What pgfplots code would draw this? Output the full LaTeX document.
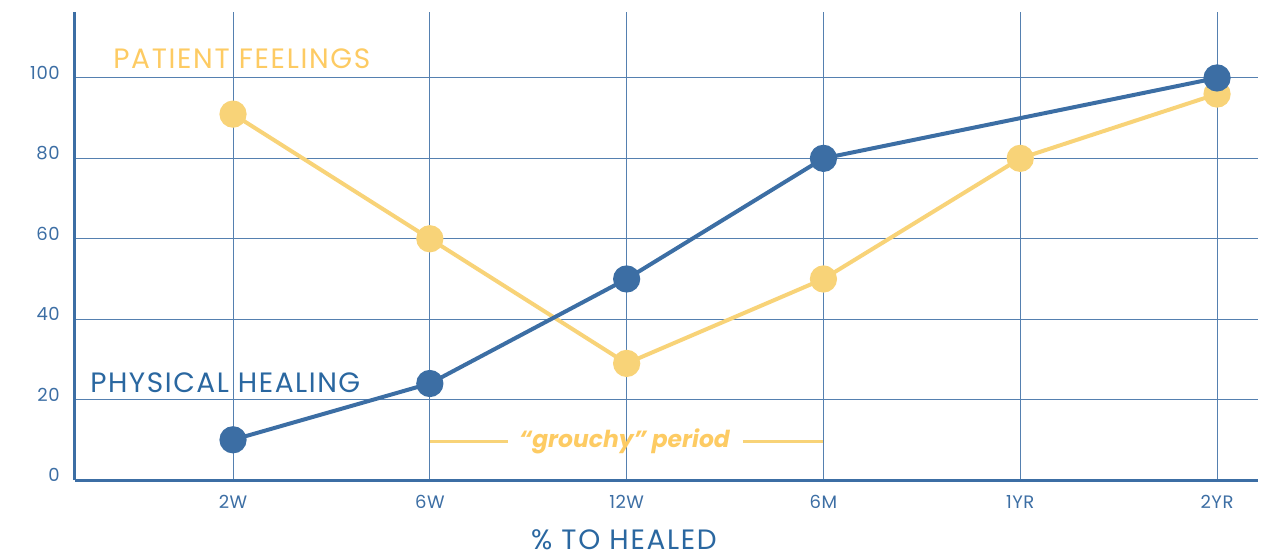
\documentclass[border=0pt]{standalone}
\usepackage{fontspec}
\setmainfont{Poppins}
\usepackage{pgfplots}
\pgfplotsset{compat=1.18}
\definecolor{cblue}{HTML}{3C6EA4}
\definecolor{tblue}{HTML}{2A67A0}
\definecolor{cyel}{HTML}{F8D378}
\definecolor{tyel}{HTML}{FDCB63}
\definecolor{gridc}{HTML}{5580B0}
\begin{document}
\begin{tikzpicture}
\useasboundingbox (0,0) rectangle (633pt,279.5pt);
\begin{axis}[
  at={(37.5pt,39.5pt)}, anchor=south west,
  scale only axis, width=591.5pt, height=234pt,
  xmin=-0.803, xmax=5.208, ymin=0, ymax=116.4,
  axis x line=bottom, axis y line=left,
  axis line style={cblue, line width=1.5pt, -},
  xtick={0,...,5}, xticklabels={2W,6W,12W,6M,1YR,2YR},
  ytick={0,20,...,100},
  grid=major, grid style={gridc, line width=0.5pt},
  tick style={draw=none},
  ticklabel style={font=\fontsize{9}{9}\selectfont\addfontfeature{LetterSpace=3}, text=cblue},
  yticklabel style={yshift=2.5pt, xshift=-2pt},
  xticklabel style={yshift=-2pt},
  /pgf/number format/assume math mode=true,
  xlabel={\% TO HEALED},
  xlabel style={at={(rel axis cs:0.464,0)}, anchor=center, yshift=-30pt, inner sep=0pt, font=\fontsize{14}{14}\selectfont\addfontfeature{LetterSpace=6}, text=tblue},
  clip=false,
]
\addplot[cyel, line width=2pt, mark=*, mark size=5.8pt, mark options={fill=cyel, draw=none}] coordinates {(0,91)(1,60)(2,29)(3,50)(4,80)(5,96)};
\addplot[cblue, line width=2pt, mark=*, mark size=5.8pt, mark options={fill=cblue, draw=none}] coordinates {(0,10)(1,24)(2,50)(3,80)(5,100)};
\node[anchor=west, text=tyel, font=\fontsize{14}{14}\selectfont\addfontfeature{LetterSpace=6}, inner sep=0pt] at (axis cs:-0.61,104.7) {PATIENT FEELINGS};
\node[anchor=west, text=tblue, font=\fontsize{14}{14}\selectfont\addfontfeature{LetterSpace=5.5}, inner sep=0pt] at (axis cs:-0.727,24.1) {PHYSICAL HEALING};
\draw[cyel, line width=1.5pt] (axis cs:1,9.7) -- (axis cs:1.397,9.7);
\draw[cyel, line width=1.5pt] (axis cs:2.59,9.7) -- (axis cs:3,9.7);
\node[text=tyel, font=\fontsize{11.7}{11.7}\selectfont\bfseries\itshape, inner sep=0pt] at (axis cs:1.99,9.7) {“grouchy” period};
\end{axis}
\end{tikzpicture}
\end{document}
